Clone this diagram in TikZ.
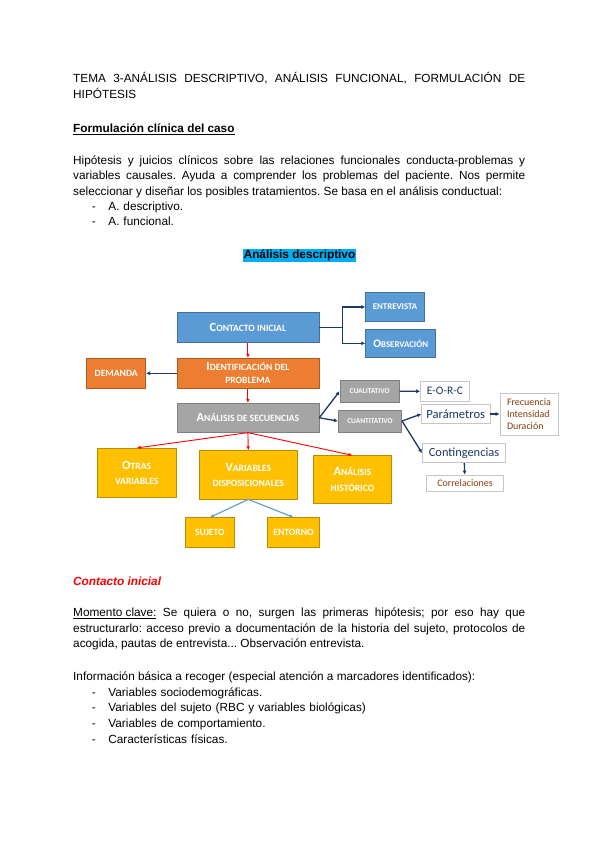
\documentclass[tikz,border=0pt]{standalone}
\usepackage{fontspec}
\setmainfont{Liberation Sans}
\newfontfamily\calibri{Carlito}
\usetikzlibrary{arrows.meta,positioning,calc}
\definecolor{azul}{HTML}{5B9BD5}
\definecolor{azulborde}{HTML}{41719C}
\definecolor{naranja}{HTML}{ED7D31}
\definecolor{naranjaborde}{HTML}{AE5A21}
\definecolor{gris}{HTML}{A5A5A5}
\definecolor{grisborde}{HTML}{7F7F7F}
\definecolor{amarillo}{HTML}{FFC000}
\definecolor{amarilloborde}{HTML}{BC8C00}
\definecolor{marino}{HTML}{1F3864}
\definecolor{marron}{HTML}{843C0C}
\hyphenpenalty=10000
\exhyphenpenalty=10000
\frenchspacing
\newcommand\versal[2]{{\fontsize{12.5}{12}\selectfont #1}{\fontsize{9.6}{12}\selectfont #2}}
\newcommand\guion[1]{\makebox[16.5pt][l]{-}#1}

\begin{document}
\begin{tikzpicture}[x=1pt,y=-1pt,>=Latex,
  txt/.style={anchor=base west,inner sep=0pt,font=\fontsize{11.8}{15.6}\selectfont},
  parr/.style={txt,text width=452pt,align=justify},
  lista/.style={txt,text width=430pt,align=left},
  box/.style={draw,line width=0.7pt,align=center,text=white,inner sep=1pt,
    font=\calibri\bfseries\fontsize{9.6}{13}\selectfont},
  azulbox/.style={box,fill=azul,draw=azulborde},
  naranjabox/.style={box,fill=naranja,draw=naranjaborde},
  grisbox/.style={box,fill=gris,draw=grisborde},
  amarillobox/.style={box,fill=amarillo,draw=amarilloborde,
    font=\calibri\bfseries\fontsize{9.6}{15.5}\selectfont},
  nota/.style={draw=gray!45,line width=0.6pt,fill=white,align=left,inner sep=1.5pt,text=marino,font=\calibri},
  flecha/.style={->,draw=marino,line width=1.3pt,>={Latex[length=4pt,width=4pt]}},
  roja/.style={->,draw=red,line width=0.9pt,>={Latex[length=4pt,width=3.5pt]}},
  celeste/.style={->,draw=azul,line width=1.1pt,>={Latex[length=4pt,width=3.5pt]}}]
\useasboundingbox (0,0) rectangle (600,848);
\fill[white] (0,0) rectangle (600,848);

% texto de arriba
\node (tema) [parr] at (73,83) {TEMA 3-ANÁLISIS DESCRIPTIVO, ANÁLISIS FUNCIONAL, FORMULACIÓN DE\linebreak HIPÓTESIS};
\node (formulacion) [txt] at (73,132.7) {\underline{\textbf{Formulación clínica del caso}}};
\node (hipotesis) [parr] at (73,164) {Hipótesis y juicios clínicos sobre las relaciones funcionales conducta-problemas y\linebreak variables causales. Ayuda a comprender los problemas del paciente. Nos permite\linebreak seleccionar y diseñar los posibles tratamientos. Se basa en el análisis conductual:};
\node (lista1) [lista] at (91.7,210) {\guion{A. descriptivo.}\\\guion{A. funcional.}};
\node (titulo) [anchor=base,fill=cyan,inner xsep=1pt,inner ysep=0.5pt,text height=8.5pt,text depth=3pt,
  font=\fontsize{11.8}{14}\selectfont\bfseries] at (299.5,258) {Análisis descriptivo};

% esquema
\node (contacto) [azulbox,minimum width=142pt,minimum height=29.6pt] at (247.9,327.5) {\versal{C}{ONTACTO INICIAL}};
\node (entrevista) [azulbox,minimum width=58.6pt,minimum height=29.4pt] at (395,307) {{\fontsize{8.8}{9}\selectfont ENTREVISTA}};
\node (observacion) [azulbox,minimum width=70pt,minimum height=28.7pt] at (400.7,343.3) {{\fontsize{11.5}{12}\selectfont O}{\fontsize{8.8}{12}\selectfont BSERVACIÓN}};
\node (identificacion) [naranjabox,minimum width=142pt,minimum height=30pt] at (247.9,373.3) {\versal{I}{DENTIFICACIÓN DEL}\\PROBLEMA};
\node (demanda) [naranjabox,minimum width=59pt,minimum height=30pt] at (116.2,373.3) {DEMANDA};
\node (secuencias) [grisbox,minimum width=142pt,minimum height=29pt] at (247.9,417.8) {\versal{A}{NÁLISIS DE SECUENCIAS}};
\node (cualitativo) [grisbox,minimum width=59.3pt,minimum height=22pt] at (369.6,391.2) {{\fontsize{7.4}{8}\selectfont CUALITATIVO}};
\node (cuantitativo) [grisbox,minimum width=63.4pt,minimum height=22pt] at (370,421) {{\fontsize{7.4}{8}\selectfont CUANTITATIVO}};
\node (eorc) [nota,minimum width=49pt,minimum height=19.4pt,font=\calibri\fontsize{11.5}{12}\selectfont] at (445,391.3) {E-O-R-C};
\node (parametros) [nota,minimum width=68.5pt,minimum height=18.5pt,font=\calibri\fontsize{12.6}{13}\selectfont] at (455.8,414) {Parámetros};
\node (medidas) [nota,minimum width=58pt,minimum height=42pt,text=marron,font=\calibri\fontsize{10}{12.3}\selectfont] at (529,414) {Frecuencia\\Intensidad\\Duración};
\node (contingencias) [nota,minimum width=83.4pt,minimum height=19.4pt,font=\calibri\fontsize{12.4}{13}\selectfont] at (464,453) {Contingencias};
\node (correlaciones) [nota,minimum width=76.6pt,minimum height=16pt,text=marron,font=\calibri\fontsize{10}{10}\selectfont] at (465,483) {Correlaciones};
\node (otras) [amarillobox,minimum width=78.7pt,minimum height=49pt] at (136.7,472.8) {\versal{O}{TRAS}\\VARIABLES};
\node (disposicionales) [amarillobox,minimum width=98.7pt,minimum height=48.3pt] at (248.3,474.9) {\versal{V}{ARIABLES}\\DISPOSICIONALES};
\node (historico) [amarillobox,minimum width=78.4pt,minimum height=47.6pt] at (352.5,479.5) {\versal{A}{NÁLISIS}\\HISTÓRICO};
\node (sujeto) [amarillobox,minimum width=48.3pt,minimum height=30pt] at (209.9,532.7) {SUJETO};
\node (entorno) [amarillobox,minimum width=51.6pt,minimum height=30pt] at (293.5,532.7) {ENTORNO};

\coordinate (rama) at (342.3,327.5);
\draw[flecha] (contacto.east) -- (rama) |- (entrevista.west);
\draw[flecha] (rama) |- (observacion.west);
\draw[flecha] (identificacion) -- (demanda);
\draw[roja] (contacto) -- (identificacion);
\draw[roja] (identificacion) -- (secuencias);
\draw[flecha] (secuencias.east) -- (cualitativo.west);
\draw[flecha] (secuencias.east) -- (cuantitativo.west);
\draw[flecha] (cualitativo) -- (eorc);
\draw[flecha] (cuantitativo.east) -- (parametros.west);
\draw[flecha] (cuantitativo.east) -- (contingencias.west);
\draw[flecha] (parametros) -- (medidas);
\draw[flecha] (contingencias) -- (correlaciones);
\draw[roja] (secuencias.south) -- (otras.north);
\draw[roja] (secuencias.south) -- (disposicionales.north);
\draw[roja] (secuencias.south) -- (historico.north);
\draw[celeste] (disposicionales.south) -- (sujeto.north);
\draw[celeste] (disposicionales.south) -- (entorno.north);

% texto de abajo
\node (contactotit) [txt,text=red,font=\fontsize{11.8}{15.6}\selectfont\bfseries\itshape] at (73,585) {Contacto inicial};
\node (momento) [parr] at (73,616.7) {\underline{Momento clave:} Se quiera o no, surgen las primeras hipótesis; por eso hay que\linebreak estructurarlo: acceso previo a documentación de la historia del sujeto, protocolos de\linebreak acogida, pautas de entrevista... Observación entrevista.};
\node (informacion) [txt] at (73,680.7) {Información básica a recoger (especial atención a marcadores identificados):};
\node (lista2) [lista] at (91.7,696.3) {\guion{Variables sociodemográficas.}\\\guion{Variables del sujeto (RBC y variables biológicas)}\\\guion{Variables de comportamiento.}\\\guion{Características físicas.}};
\end{tikzpicture}
\end{document}
